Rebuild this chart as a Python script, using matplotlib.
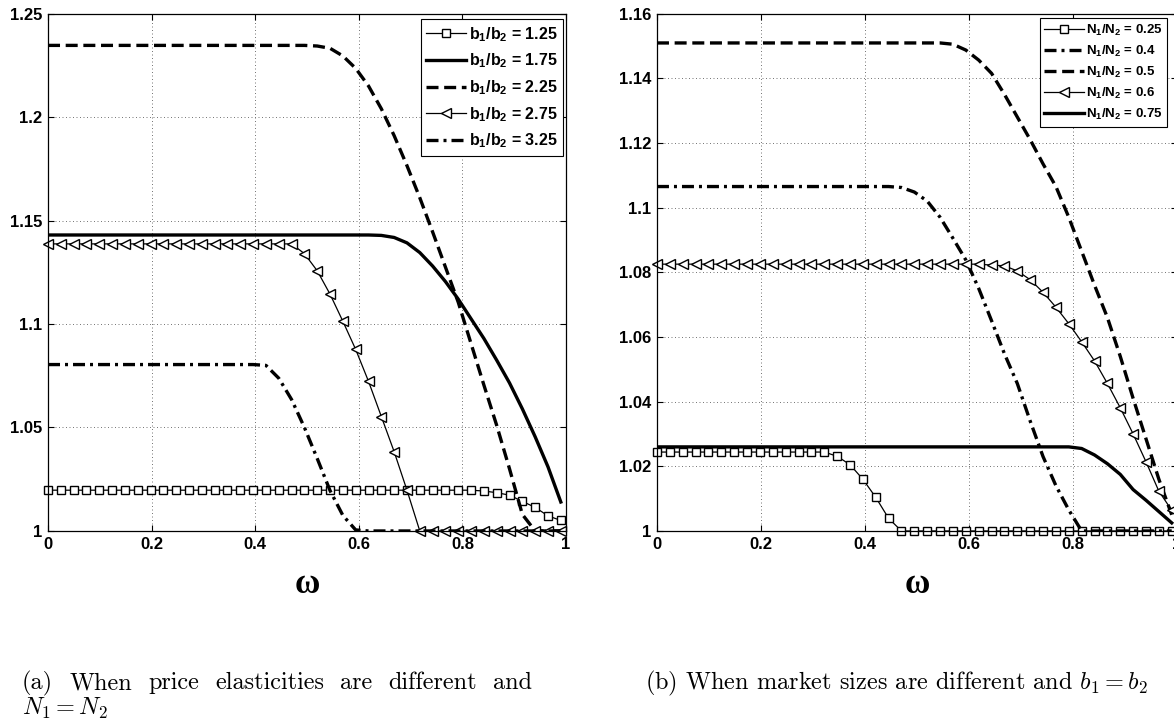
import numpy as np
import matplotlib
matplotlib.use('Agg')
from matplotlib import pyplot as plt

plt.rcParams['font.family'] = ['Liberation Sans', 'DejaVu Sans']
plt.rcParams['font.weight'] = 'bold'

# omega grid, 41 samples (one marker per sample)
omega = np.linspace(0, 0.99, 41)

# (a) price elasticities differ, N1 = N2
b_labels = ['1.25', '1.75', '2.25', '2.75', '3.25']
b125 = [1.0197, 1.0197, 1.0197, 1.0197, 1.0197, 1.0197, 1.0197, 1.0197, 1.0197, 1.0197,
        1.0197, 1.0197, 1.0197, 1.0197, 1.0197, 1.0197, 1.0197, 1.0197, 1.0197, 1.0197,
        1.0197, 1.0197, 1.0197, 1.0197, 1.0197, 1.0197, 1.0197, 1.0197, 1.0197, 1.0197,
        1.0197, 1.0197, 1.0197, 1.0197, 1.0193, 1.0185, 1.0173, 1.0143, 1.0114, 1.0073,
        1.0051]
b175 = [1.143, 1.143, 1.143, 1.143, 1.143, 1.143, 1.143, 1.143, 1.143, 1.143,
        1.143, 1.143, 1.143, 1.143, 1.143, 1.143, 1.143, 1.143, 1.143, 1.143,
        1.143, 1.143, 1.143, 1.143, 1.143, 1.143, 1.1428, 1.1418, 1.1392, 1.1345,
        1.128, 1.1205, 1.112, 1.1025, 1.093, 1.0825, 1.0715, 1.059, 1.0455, 1.031,
        1.014]
b225 = [1.2346, 1.2346, 1.2346, 1.2346, 1.2346, 1.2346, 1.2346, 1.2346, 1.2346, 1.2346,
        1.2346, 1.2346, 1.2346, 1.2346, 1.2346, 1.2346, 1.2346, 1.2346, 1.2346, 1.2346,
        1.2346, 1.2343, 1.2332, 1.2295, 1.2235, 1.215, 1.204, 1.191, 1.1765, 1.161,
        1.1445, 1.1275, 1.1105, 1.0905, 1.0705, 1.051, 1.03, 1.008, 1.0, 1.0,
        1.0]
b275 = [1.1387, 1.1387, 1.1387, 1.1387, 1.1387, 1.1387, 1.1387, 1.1387, 1.1387, 1.1387,
        1.1387, 1.1387, 1.1387, 1.1387, 1.1387, 1.1387, 1.1387, 1.1387, 1.1387, 1.1387,
        1.134, 1.1257, 1.1144, 1.1013, 1.0877, 1.0723, 1.0553, 1.0383, 1.0197, 1.0,
        1.0, 1.0, 1.0, 1.0, 1.0, 1.0, 1.0, 1.0, 1.0, 1.0,
        1.0]
b325 = [1.0804, 1.0804, 1.0804, 1.0804, 1.0804, 1.0804, 1.0804, 1.0804, 1.0804, 1.0804,
        1.0804, 1.0804, 1.0804, 1.0804, 1.0804, 1.0804, 1.0804, 1.08, 1.0738, 1.0635,
        1.05, 1.035, 1.0195, 1.0075, 1.0005, 1.0, 1.0, 1.0, 1.0, 1.0,
        1.0, 1.0, 1.0, 1.0, 1.0, 1.0, 1.0, 1.0, 1.0, 1.0,
        1.0]

# (b) market sizes differ, b1 = b2
n_labels = ['0.25', '0.4', '0.5', '0.6', '0.75']
n025 = [1.0244, 1.0244, 1.0244, 1.0244, 1.0244, 1.0244, 1.0244, 1.0244, 1.0244, 1.0244,
        1.0244, 1.0244, 1.0244, 1.0244, 1.0231, 1.0205, 1.016, 1.0104, 1.0039, 1.0,
        1.0, 1.0, 1.0, 1.0, 1.0, 1.0, 1.0, 1.0, 1.0, 1.0,
        1.0, 1.0, 1.0, 1.0, 1.0, 1.0, 1.0, 1.0, 1.0, 1.0,
        1.0]
n04 = [1.1065, 1.1065, 1.1065, 1.1065, 1.1065, 1.1065, 1.1065, 1.1065, 1.1065, 1.1065,
       1.1065, 1.1065, 1.1065, 1.1065, 1.1065, 1.1065, 1.1065, 1.1065, 1.1065, 1.1062,
       1.1048, 1.102, 1.097, 1.0905, 1.0838, 1.075, 1.065, 1.0548, 1.0456, 1.034,
       1.023, 1.014, 1.0065, 1.0, 1.0, 1.0, 1.0, 1.0, 1.0, 1.0,
       1.0]
n05 = [1.1509, 1.1509, 1.1509, 1.1509, 1.1509, 1.1509, 1.1509, 1.1509, 1.1509, 1.1509,
       1.1509, 1.1509, 1.1509, 1.1509, 1.1509, 1.1509, 1.1509, 1.1509, 1.1509, 1.1509,
       1.1509, 1.1509, 1.1509, 1.1505, 1.1487, 1.1456, 1.1415, 1.135, 1.128, 1.121,
       1.1135, 1.1065, 1.097, 1.0865, 1.076, 1.066, 1.054, 1.041, 1.0285, 1.016,
       1.005]
n06 = [1.0825, 1.0825, 1.0825, 1.0825, 1.0825, 1.0825, 1.0825, 1.0825, 1.0825, 1.0825,
       1.0825, 1.0825, 1.0825, 1.0825, 1.0825, 1.0825, 1.0825, 1.0825, 1.0825, 1.0825,
       1.0825, 1.0825, 1.0825, 1.0825, 1.0825, 1.0825, 1.0822, 1.082, 1.0804, 1.0777,
       1.0738, 1.0692, 1.0641, 1.0585, 1.0526, 1.0456, 1.0381, 1.03, 1.0214, 1.0123,
       1.0064]
n075 = [1.026, 1.026, 1.026, 1.026, 1.026, 1.026, 1.026, 1.026, 1.026, 1.026,
        1.026, 1.026, 1.026, 1.026, 1.026, 1.026, 1.026, 1.026, 1.026, 1.026,
        1.026, 1.026, 1.026, 1.026, 1.026, 1.026, 1.026, 1.026, 1.026, 1.026,
        1.026, 1.026, 1.026, 1.0255, 1.0235, 1.0208, 1.0175, 1.0128, 1.0095, 1.006,
        1.0025]

x_ticks = [0, 0.2, 0.4, 0.6, 0.8, 1]
x_labels = ['0', '0.2', '0.4', '0.6', '0.8', '1']
ya_ticks = [1, 1.05, 1.1, 1.15, 1.2, 1.25]
ya_labels = ['1', '1.05', '1.1', '1.15', '1.2', '1.25']
yb_ticks = [1, 1.02, 1.04, 1.06, 1.08, 1.1, 1.12, 1.14, 1.16]
yb_labels = ['1', '1.02', '1.04', '1.06', '1.08', '1.1', '1.12', '1.14', '1.16']

DASH = (3.6, 1.7)
DASHDOT = (3.6, 1.5, 0.9, 1.5)


def style_axes(ax, yticks, ylabels):
    ax.set_xlim(0, 1)
    ax.set_ylim(yticks[0], yticks[-1])
    ax.set_xticks(x_ticks)
    ax.set_xticklabels(x_labels)
    ax.set_yticks(yticks)
    ax.set_yticklabels(ylabels)
    ax.tick_params(direction='in', length=4, width=0.8, top=True, right=True,
                   labelsize=12, pad=4)
    ax.grid(True, linestyle=(0, (1, 2.6)), linewidth=0.7, color='0.45')
    for s in ax.spines.values():
        s.set_linewidth(0.9)
    ax.set_xlabel('ω', family=['Liberation Serif', 'DejaVu Serif'],
                  fontsize=25, fontweight='bold', va='center')
    ax.xaxis.set_label_coords(0.5, -0.104)


fig = plt.figure(figsize=(11.74, 7.23), dpi=100)
ax1 = fig.add_axes([0.0409, 0.2656, 0.4412, 0.7157])
ax2 = fig.add_axes([0.5596, 0.2656, 0.4429, 0.7157])

thin = dict(color='k', lw=0.9, mfc='white', mec='k', mew=1.0, clip_on=False)
thick = dict(color='k', lw=2.4)

lab_a = [r'b$_\mathregular{1}$/b$_\mathregular{2}$ = ' + s for s in b_labels]
ax1.plot(omega, b125, marker='s', ms=6.3, label=lab_a[0], **thin)
ax1.plot(omega, b175, '-', label=lab_a[1], **thick)
ax1.plot(omega, b225, dashes=DASH, label=lab_a[2], **thick)
ax1.plot(omega, b275, marker='<', ms=7.5, label=lab_a[3], **thin)
ax1.plot(omega, b325, dashes=DASHDOT, label=lab_a[4], **thick)
style_axes(ax1, ya_ticks, ya_labels)
leg1 = ax1.legend(loc='upper right', bbox_to_anchor=(0.994, 0.989), borderaxespad=0,
                  fancybox=False, edgecolor='k', framealpha=1,
                  prop={'weight': 'bold', 'size': 11.5}, handlelength=2.5,
                  handletextpad=0.15, labelspacing=0.5, borderpad=0.35)
leg1.get_frame().set_linewidth(0.8)

lab_b = [r'N$_\mathregular{1}$/N$_\mathregular{2}$ = ' + s for s in n_labels]
ax2.plot(omega, n025, marker='s', ms=6.3, label=lab_b[0], **thin)
ax2.plot(omega, n04, dashes=DASHDOT, label=lab_b[1], **thick)
ax2.plot(omega, n05, dashes=DASH, label=lab_b[2], **thick)
ax2.plot(omega, n06, marker='<', ms=7.5, label=lab_b[3], **thin)
ax2.plot(omega, n075, '-', label=lab_b[4], **thick)
style_axes(ax2, yb_ticks, yb_labels)
leg2 = ax2.legend(loc='upper right', bbox_to_anchor=(0.981, 0.991), borderaxespad=0,
                  fancybox=False, edgecolor='k', framealpha=1,
                  prop={'weight': 'bold', 'size': 9.5}, handlelength=3.0,
                  handletextpad=0.15, labelspacing=0.45, borderpad=0.35)
leg2.get_frame().set_linewidth(0.8)

# captions, LaTeX look; first line of (a) is justified
cap = dict(family='cmr10', fontsize=17.5, fontweight='normal', math_fontfamily='cm')
renderer = fig.canvas.get_renderer()
W, H = fig.get_size_inches() * fig.dpi
words = ['(a)', 'When', 'price', 'elasticities', 'are', 'different', 'and']
x0, x1 = 22, 532
texts = [fig.text(0, 1 - 689 / H, w, **cap) for w in words]
widths = [t.get_window_extent(renderer).width for t in texts]
gap = (x1 - x0 - sum(widths)) / (len(words) - 1)
xpos = x0
for t, w in zip(texts, widths):
    t.set_x(xpos / W)
    xpos += w + gap
fig.text(22 / W, 1 - 715 / H, r'$N_1 = N_2$', **cap)
fig.text(645 / W, 1 - 689 / H, r'(b) When market sizes are different and $b_1 = b_2$', **cap)

fig.savefig('out.png', dpi=100)
